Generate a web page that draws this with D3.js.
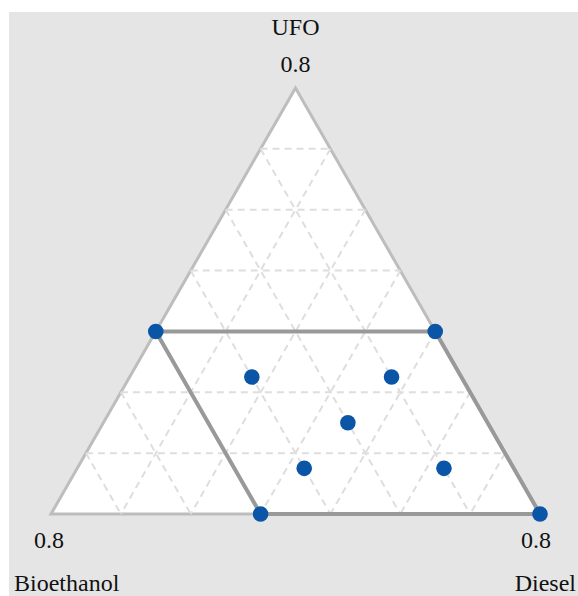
<!DOCTYPE html>
<html>
<head>
<meta charset="utf-8">
<script src="https://cdn.jsdelivr.net/npm/d3@7"></script>
<style>
    body { margin: 0; background: #fff; overflow: hidden; }
    svg { display: block; }
</style>
</head>
<body>
<div id="chart"></div>
<script>
// component names and axis range (each component between 0.1 and 0.8)
const components = ['UFO', 'Bioethanol', 'Diesel'];
const compMin = 0.1;
const compMax = 0.8;
const gridLevels = [0.2, 0.3, 0.4, 0.5, 0.6, 0.7];

// design points (UFO, Bioethanol, Diesel)
const ufo =        [0.4, 0.4, 0.1, 0.1, 0.325, 0.325, 0.25, 0.175, 0.175];
const bioethanol = [0.5, 0.1, 0.5, 0.1, 0.4,   0.2,   0.3,  0.4,   0.2];
const diesel =     [0.1, 0.5, 0.4, 0.8, 0.275, 0.475, 0.45, 0.425, 0.625];

// constrained region corners (UFO, Bioethanol, Diesel)
const regionUfo = [0.4, 0.4, 0.1, 0.1];
const regionBio = [0.5, 0.1, 0.1, 0.5];
const regionDiesel = [0.1, 0.5, 0.8, 0.4];

const width = 578, height = 596;

const svg = d3.select('#chart').append('svg')
    .attr('width', width)
    .attr('height', height);

svg.append('rect')
    .attr('x', 9).attr('y', 12)
    .attr('width', width - 9).attr('height', height - 12)
    .attr('fill', '#e5e5e5');

// pseudo component scale
const pseudo = d3.scaleLinear().domain([compMin, compMax]).range([0, 1]);
const xScale = d3.scaleLinear().domain([0, 1]).range([51, 540]);
const yScale = d3.scaleLinear().domain([0, 1]).range([514, 88]);

const project = (u, b, d) => {
    const up = pseudo(u), dp = pseudo(d);
    return [xScale(dp + up / 2), yScale(up)];
};

const g = svg.append('g');

// triangle
const corners = [project(compMax, compMin, compMin), project(compMin, compMax, compMin), project(compMin, compMin, compMax)];
g.append('path')
    .attr('d', d3.line()(corners) + 'Z')
    .attr('fill', '#fff')
    .attr('stroke', '#bdbdbd')
    .attr('stroke-width', 3)
    .attr('stroke-linejoin', 'miter');

// dashed grid
const gridSegments = [];
gridLevels.forEach(v => {
    const rest = 1 - v - compMin;
    gridSegments.push([project(v, rest, compMin), project(v, compMin, rest)]);
    gridSegments.push([project(rest, v, compMin), project(compMin, v, rest)]);
    gridSegments.push([project(rest, compMin, v), project(compMin, rest, v)]);
});

g.selectAll('.grid')
    .data(gridSegments)
    .enter().append('path')
    .attr('class', 'grid')
    .attr('d', d => d3.line()(d))
    .attr('stroke', '#dedede')
    .attr('stroke-width', 2)
    .attr('stroke-dasharray', '7,5')
    .attr('fill', 'none');

// constrained region
const regionPts = regionUfo.map((u, i) => project(u, regionBio[i], regionDiesel[i]));
g.append('path')
    .attr('d', d3.line()(regionPts) + 'Z')
    .attr('fill', 'none')
    .attr('stroke', '#999')
    .attr('stroke-width', 4);

// points
g.selectAll('.pt')
    .data(ufo.map((u, i) => project(u, bioethanol[i], diesel[i])))
    .enter().append('circle')
    .attr('class', 'pt')
    .attr('cx', d => d[0])
    .attr('cy', d => d[1])
    .attr('r', 7.8)
    .attr('fill', '#0a55a6');

// labels
const labelFont = '"Liberation Serif", "Times New Roman", serif';
const addText = (x, y, txt, anchor) => svg.append('text')
    .attr('x', x).attr('y', y)
    .attr('text-anchor', anchor)
    .style('font-family', labelFont)
    .style('font-size', '24px')
    .style('fill', '#111')
    .text(txt);

addText(corners[0][0], 35, components[0], 'middle');
addText(corners[0][0], 72, compMax.toFixed(1), 'middle');
addText(49, 548, compMax.toFixed(1), 'middle');
addText(14, 591, components[1], 'start');
addText(536, 548, compMax.toFixed(1), 'middle');
addText(width - 2, 591, components[2], 'end');
</script>
</body>
</html>
